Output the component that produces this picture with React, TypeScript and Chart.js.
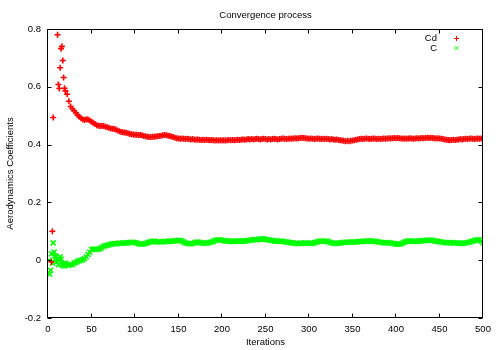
import React, { useEffect, useRef } from "react";
import { Chart, registerables } from "chart.js";

Chart.register(...registerables);

const chartTitle = "Convergence process";
const xTitle = "Iterations";
const yTitle = "Aerodynamics Coefficients";
const seriesNames = ["Cd", "C"];
const seriesColors = ["#ff0000", "#00ff00"];

const xTicks = [0, 50, 100, 150, 200, 250, 300, 350, 400, 450, 500];
const yTicks = [-0.2, 0, 0.2, 0.4, 0.6, 0.8];

// first iterations (only the ones inside the plotted range)
const cdHeadIters = [4, 5, 6, 11, 12, 13, 14, 15, 16, 17, 18, 19];
const cdHead = [-0.006, 0.1, 0.494, 0.78, 0.608, 0.594, 0.666, 0.732, 0.74, 0.691, 0.632, 0.595];

const cHeadIters = [1, 2, 3, 4, 5, 6, 7, 8, 9, 10, 11, 12, 13, 14, 15, 16, 17, 18, 19];
const cHead = [0.0, -0.048, -0.035, 0.022, -0.01, 0.06, 0.028, 0.004, 0.014, -0.006, 0.006, -0.016, 0.002, 0.012, 0.004, -0.014, -0.018, -0.012, -0.02];

// iterations 20, 22, ..., 500
const cdTail = [
  0.586, 0.574, 0.55, 0.532, 0.524, 0.517, 0.51, 0.503, 0.496, 0.491,
  0.487, 0.485, 0.488, 0.487, 0.483, 0.479, 0.476, 0.471, 0.467, 0.465,
  0.464, 0.465, 0.464, 0.462, 0.46, 0.458, 0.456, 0.455, 0.454, 0.452,
  0.449, 0.446, 0.444, 0.443, 0.442, 0.441, 0.439, 0.437, 0.436, 0.435,
  0.434, 0.434, 0.433, 0.433, 0.432, 0.43, 0.429, 0.427, 0.426, 0.426,
  0.427, 0.427, 0.428, 0.429, 0.43, 0.431, 0.432, 0.433, 0.432, 0.431,
  0.43, 0.428, 0.426, 0.424, 0.422, 0.421, 0.42, 0.421, 0.42, 0.419,
  0.42, 0.419, 0.418, 0.419, 0.418, 0.417, 0.418, 0.417, 0.416, 0.417,
  0.416, 0.417, 0.416, 0.415, 0.416, 0.415, 0.414, 0.415, 0.414, 0.415,
  0.414, 0.415, 0.414, 0.415, 0.416, 0.415, 0.416, 0.415, 0.416, 0.417,
  0.416, 0.417, 0.418, 0.417, 0.418, 0.419, 0.418, 0.419, 0.418, 0.419,
  0.42, 0.419, 0.418, 0.419, 0.42, 0.419, 0.418, 0.419, 0.418, 0.419,
  0.42, 0.419, 0.418, 0.419, 0.42, 0.421, 0.42, 0.419, 0.42, 0.421,
  0.42, 0.421, 0.422, 0.421, 0.422, 0.423, 0.424, 0.423, 0.422, 0.421,
  0.42, 0.421, 0.42, 0.419, 0.42, 0.421, 0.42, 0.419, 0.42, 0.419,
  0.42, 0.419, 0.418, 0.419, 0.418, 0.417, 0.418, 0.416, 0.415, 0.414,
  0.413, 0.412, 0.413, 0.412, 0.413, 0.414, 0.415, 0.417, 0.418, 0.419,
  0.42, 0.419, 0.42, 0.421, 0.42, 0.419, 0.42, 0.421, 0.42, 0.419,
  0.42, 0.419, 0.42, 0.421, 0.42, 0.421, 0.422, 0.421, 0.422, 0.423,
  0.422, 0.423, 0.422, 0.421, 0.42, 0.421, 0.42, 0.421, 0.422, 0.421,
  0.42, 0.421, 0.422, 0.421, 0.422, 0.423, 0.422, 0.423, 0.424, 0.423,
  0.424, 0.423, 0.422, 0.421, 0.422, 0.421, 0.42, 0.419, 0.418, 0.417,
  0.416, 0.415, 0.416, 0.417, 0.416, 0.417, 0.418, 0.419, 0.418, 0.419,
  0.42, 0.419, 0.42, 0.421, 0.42, 0.419, 0.42, 0.421, 0.42, 0.421,
  0.422,
];

const cTail = [
  -0.01, -0.015, -0.018, -0.015, -0.016, -0.01, -0.008, -0.004, -0.002, 0.0,
  0.002, 0.006, 0.012, 0.02, 0.028, 0.037, 0.039, 0.038, 0.037, 0.038,
  0.041, 0.044, 0.048, 0.05, 0.052, 0.053, 0.055, 0.057, 0.058, 0.057,
  0.058, 0.059, 0.058, 0.06, 0.059, 0.06, 0.06, 0.061, 0.062, 0.062,
  0.061, 0.059, 0.057, 0.056, 0.055, 0.056, 0.058, 0.06, 0.062, 0.064,
  0.065, 0.066, 0.064, 0.063, 0.064, 0.063, 0.064, 0.065, 0.064, 0.065,
  0.066, 0.065, 0.066, 0.067, 0.068, 0.069, 0.068, 0.066, 0.063, 0.06,
  0.058, 0.057, 0.057, 0.058, 0.06, 0.062, 0.063, 0.062, 0.06, 0.059,
  0.058, 0.059, 0.06, 0.061, 0.063, 0.065, 0.068, 0.07, 0.071, 0.07,
  0.069, 0.068, 0.067, 0.066, 0.065, 0.066, 0.065, 0.066, 0.065, 0.066,
  0.067, 0.066, 0.065, 0.066, 0.067, 0.068, 0.069, 0.07, 0.071, 0.072,
  0.07, 0.072, 0.073, 0.074, 0.073, 0.072, 0.071, 0.07, 0.069, 0.068,
  0.067, 0.066, 0.066, 0.065, 0.066, 0.065, 0.064, 0.063, 0.062, 0.061,
  0.06, 0.059, 0.058, 0.059, 0.058, 0.059, 0.058, 0.059, 0.06, 0.059,
  0.058, 0.059, 0.058, 0.06, 0.062, 0.064, 0.066, 0.066, 0.065, 0.066,
  0.066, 0.064, 0.062, 0.06, 0.059, 0.058, 0.058, 0.059, 0.06, 0.061,
  0.062, 0.061, 0.062, 0.063, 0.062, 0.063, 0.062, 0.063, 0.064, 0.065,
  0.064, 0.065, 0.066, 0.065, 0.066, 0.067, 0.066, 0.065, 0.066, 0.064,
  0.063, 0.062, 0.061, 0.06, 0.06, 0.061, 0.06, 0.059, 0.058, 0.058,
  0.056, 0.055, 0.055, 0.057, 0.06, 0.063, 0.065, 0.066, 0.067, 0.066,
  0.065, 0.066, 0.065, 0.066, 0.067, 0.068, 0.067, 0.068, 0.069, 0.07,
  0.069, 0.068, 0.067, 0.066, 0.065, 0.064, 0.063, 0.062, 0.061, 0.06,
  0.061, 0.06, 0.061, 0.06, 0.059, 0.06, 0.059, 0.058, 0.058, 0.059,
  0.06, 0.061, 0.062, 0.064, 0.066, 0.068, 0.07, 0.071, 0.07, 0.066,
  0.06,
];

const tailIters = cdTail.map((_, i) => 20 + 2 * i);

const FONT = '"Liberation Sans", Arial, sans-serif';
const FS = 9.5;

function toPoints(iters: number[], vals: number[]) {
  return iters.map((x, i) => ({ x, y: vals[i] }));
}

const framePlugin = {
  id: "gnuframe",
  afterDraw(chart: any) {
    const { ctx, chartArea } = chart;
    const { left, right, top, bottom } = chartArea;
    const xs = chart.scales.x;
    const ys = chart.scales.y;
    ctx.save();
    ctx.strokeStyle = "#000";
    ctx.lineWidth = 1;
    ctx.beginPath();
    const L = Math.round(left) - 0.5;
    const R = Math.round(right) - 0.5;
    const T = Math.round(top) + 0.5;
    const B = Math.round(bottom) - 0.5;
    ctx.rect(L, T, R - L, B - T);
    const tl = 4;
    xTicks.forEach((v) => {
      const px = Math.round(xs.getPixelForValue(v)) - 0.5;
      ctx.moveTo(px, B);
      ctx.lineTo(px, B - tl);
      ctx.moveTo(px, T);
      ctx.lineTo(px, T + tl);
    });
    yTicks.forEach((v) => {
      const py = Math.round(ys.getPixelForValue(v)) + 0.5;
      ctx.moveTo(L, py);
      ctx.lineTo(L + tl, py);
      ctx.moveTo(R, py);
      ctx.lineTo(R - tl, py);
    });
    ctx.stroke();

    ctx.fillStyle = "#000";
    ctx.font = `${FS}px ${FONT}`;
    ctx.textBaseline = "middle";
    ctx.textAlign = "center";
    ctx.fillText(chartTitle, (left + right) / 2, 15);
    ctx.fillText(xTitle, (left + right) / 2, 342);
    ctx.save();
    ctx.translate(10, (top + bottom) / 2);
    ctx.rotate(-Math.PI / 2);
    ctx.fillText(yTitle, 0, 0);
    ctx.restore();

    // legend
    ctx.textAlign = "right";
    const legY = [38.5, 48];
    seriesNames.forEach((name, i) => {
      ctx.fillStyle = "#000";
      ctx.fillText(name, 437, legY[i]);
      ctx.strokeStyle = seriesColors[i];
      ctx.beginPath();
      const cx = 456.5;
      const cy = legY[i];
      if (i === 0) {
        ctx.moveTo(cx - 2.5, cy);
        ctx.lineTo(cx + 2.5, cy);
        ctx.moveTo(cx, cy - 2.5);
        ctx.lineTo(cx, cy + 2.5);
      } else {
        ctx.moveTo(cx - 2, cy - 2);
        ctx.lineTo(cx + 2, cy + 2);
        ctx.moveTo(cx - 2, cy + 2);
        ctx.lineTo(cx + 2, cy - 2);
      }
      ctx.stroke();
    });
    ctx.restore();
  },
};

export default function App() {
  const ref = useRef<HTMLCanvasElement | null>(null);
  useEffect(() => {
    if (!ref.current) return;
    const chart = new Chart(ref.current, {
      type: "scatter",
      data: {
        datasets: [
          {
            label: seriesNames[0],
            data: [...toPoints(cdHeadIters, cdHead), ...toPoints(tailIters, cdTail)],
            pointStyle: "cross",
            pointRadius: 3,
            borderColor: seriesColors[0],
            backgroundColor: seriesColors[0],
            borderWidth: 1.6,
            showLine: false,
          },
          {
            label: seriesNames[1],
            data: [...toPoints(cHeadIters, cHead), ...toPoints(tailIters, cTail)],
            pointStyle: "crossRot",
            pointRadius: 3.5,
            borderColor: seriesColors[1],
            backgroundColor: seriesColors[1],
            borderWidth: 1.6,
            showLine: false,
          },
        ],
      },
      options: {
        responsive: false,
        animation: false,
        events: [],
        layout: { padding: { top: 29, right: 17, left: 0, bottom: 0 } },
        plugins: {
          legend: { display: false },
          tooltip: { enabled: false },
          title: { display: false },
        },
        scales: {
          x: {
            type: "linear",
            min: 0,
            max: 500,
            grid: { display: false, drawTicks: false },
            border: { display: false },
            afterBuildTicks: (s: any) => {
              s.ticks = xTicks.map((v) => ({ value: v }));
            },
            afterFit: (s: any) => {
              s.height = 32;
            },
            ticks: {
              color: "#000",
              font: { family: FONT, size: FS },
              padding: 6,
              maxRotation: 0,
              autoSkip: false,
              callback: (v: any) => String(v),
            },
          },
          y: {
            type: "linear",
            min: -0.2,
            max: 0.8,
            grid: { display: false, drawTicks: false },
            border: { display: false },
            afterBuildTicks: (s: any) => {
              s.ticks = yTicks.map((v) => ({ value: v }));
            },
            afterFit: (s: any) => {
              s.width = 48;
            },
            ticks: {
              color: "#000",
              font: { family: FONT, size: FS },
              padding: 7,
              autoSkip: false,
              callback: (v: any) => String(v),
            },
          },
        },
      },
      plugins: [framePlugin],
    });
    return () => chart.destroy();
  }, []);
  return (
    <div style={{ position: "absolute", left: 0, top: 0, width: 500, height: 350, background: "#fff" }}>
      <canvas ref={ref} width={500} height={350} style={{ display: "block" }} />
    </div>
  );
}
